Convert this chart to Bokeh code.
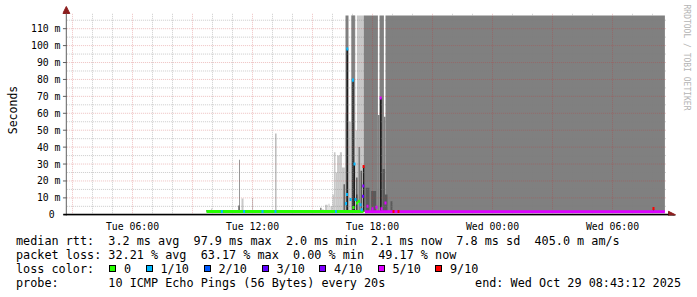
import math
from bokeh.plotting import figure
from bokeh.models import Range1d, FixedTicker, Arrow, NormalHead, Title, Div
from bokeh.layouts import column
from bokeh.embed import file_html
from bokeh.resources import INLINE

# ---------------- data (time = hours since Tue 28 Oct 2025 00:00, values in ms) ----------------
T_START = 2.72      # Tue 02:43:12
T_END = 32.72       # Wed 08:43:12
Y_LIMIT = 117.8     # graph upper limit in ms

x_ticks = [6, 12, 18, 24, 30]
x_labels = ["Tue 06:00", "Tue 12:00", "Tue 18:00", "Wed 00:00", "Wed 06:00"]
y_ticks = [0, 10, 20, 30, 40, 50, 60, 70, 80, 90, 100, 110]
y_labels = ["0\u00a0", "10 m", "20 m", "30 m", "40 m", "50 m", "60 m", "70 m", "80 m", "90 m", "100 m", "110 m"]

# smoke: outer (light) layer
light_start = [9.93, 11.45, 11.98, 15.50, 15.63, 15.80, 15.90, 16.00, 16.07, 16.15, 16.23, 16.37, 16.47, 16.62, 16.80, 16.92, 17.15, 17.22]
light_end   = [9.98, 11.55, 12.03, 15.55, 15.75, 15.85, 16.00, 16.07, 16.15, 16.23, 16.37, 16.47, 16.62, 16.65, 16.92, 17.15, 17.22, 17.58]
light_top   = [3.7, 9.6, 10.0, 3.5, 6.0, 6.5, 5.0, 12.0, 37.0, 25.0, 35.0, 37.0, 28.0, 60.0, 55.0, 150.0, 50.0, 150.0]

# smoke: middle layer
mid_start = [11.33, 13.15, 16.65, 16.95, 17.30, 17.57, 18.27, 18.35, 18.57, 18.65]
mid_end   = [11.37, 13.19, 16.80, 17.12, 17.38, 18.27, 18.35, 18.57, 18.65, 32.62]
mid_top   = [32.5, 48.0, 150.0, 150.0, 40.0, 150.0, 59.0, 150.0, 58.0, 150.0]

# smoke: dark layer
dark_start = [16.55, 17.18, 17.40, 17.66, 17.93, 18.50, 18.62, 18.90]
dark_end   = [16.62, 17.25, 17.48, 17.85, 18.18, 18.62, 18.75, 19.00]
dark_top   = [18.0, 22.0, 26.0, 16.0, 14.0, 27.0, 12.0, 8.0]

# smoke: innermost (near median) layer
core_start = [9.70, 11.30, 15.40, 16.70, 16.99, 17.07, 17.20, 17.52, 18.37, 32.02]
core_end   = [9.74, 11.34, 15.44, 16.78, 17.06, 17.13, 17.24, 17.59, 18.46, 32.08]
core_top   = [2.9, 5.5, 4.2, 98.0, 79.6, 30.0, 12.0, 28.6, 69.0, 3.5]

# median rtt runs
run_start = [9.70, 17.62]
run_end   = [17.55, 32.62]
run_ms    = [2.0, 1.8]
run_loss  = [0, 5]

# median rtt single samples
pt_t    = [10.47, 11.58, 12.50, 13.15, 16.17, 16.68, 16.72, 16.74, 16.90, 17.02, 17.05, 17.10, 17.15, 17.23,
           17.32, 17.40, 17.46, 17.53, 17.54, 17.555, 17.75, 18.00, 18.20, 18.41, 18.45, 18.65, 19.05, 19.30, 32.05]
pt_ms   = [2.0, 2.0, 2.0, 2.0, 2.0, 6.6, 12.0, 98.0, 9.0, 79.6, 4.3, 30.0, 9.0, 7.0,
           8.0, 6.0, 3.0, 11.0, 17.0, 28.6, 5.0, 3.5, 4.5, 69.0, 3.5, 7.0, 2.0, 2.0, 3.7]
pt_loss = [1, 1, 1, 1, 1, 1, 1, 1, 1, 1, 0, 1, 1, 0,
           0, 1, 1, 3, 4, 9, 5, 5, 5, 5, 5, 5, 9, 9, 9]

loss_names = ["0", "1/10", "2/10", "3/10", "4/10", "5/10", "9/10"]
loss_keys = [0, 1, 2, 3, 4, 5, 9]
loss_colors = ["#26ff00", "#00b8ff", "#0059ff", "#5e00ff", "#7e00ff", "#dd00ff", "#ff0000"]

legend_lines = [
    "median rtt:  3.2 ms avg  97.9 ms max  2.0 ms min  2.1 ms now  7.8 ms sd  405.0 m am/s",
    "packet loss: 32.21 % avg  63.17 % max  0.00 % min  49.17 % now",
    "loss color:",
    "probe:       10 ICMP Echo Pings (56 Bytes) every 20s",
]
end_text = "end: Wed Oct 29 08:43:12 2025"

# ---------------- graph ----------------
FONT = "DejaVu Sans Mono"
X_PX = 20.0          # px per hour
Y_PX = 1.7           # px per ms
W, H, H1 = 697, 297, 234
FR_L, FR_R, FR_T, FR_B = 62, 676, 4, 216
X0_PX, X0_H = 132.0, 6.0
Y0_PX = 215.3

xr = Range1d(X0_H + (FR_L - X0_PX) / X_PX, X0_H + (FR_R - X0_PX) / X_PX)
yr = Range1d((Y0_PX - FR_B) / Y_PX, (Y0_PX - FR_T) / Y_PX)

p = figure(width=W, height=H1, x_range=xr, y_range=yr, output_backend="svg", toolbar_location=None,
           min_border_left=FR_L, min_border_right=W - FR_R, min_border_top=FR_T, min_border_bottom=H1 - FR_B)
p.outline_line_color = None
p.xgrid.visible = False
p.ygrid.visible = False
p.background_fill_color = "white"
p.border_fill_color = "white"

def clip(v):
    return [min(t, Y_LIMIT) for t in v]

SMOKE_BOTTOM = 1.8
def smoke(s, e, t, color):
    p.quad(left=s, right=e, bottom=[SMOKE_BOTTOM] * len(s), top=clip(t), fill_color=color, line_color=None)

smoke(light_start, light_end, light_top, "#c8c8c8")
smoke(mid_start, mid_end, mid_top, "#808080")
smoke(dark_start, dark_end, dark_top, "#5a5a5a")
smoke(core_start, core_end, core_top, "#1e1e1e")

# grid (drawn over smoke, semi-transparent like rrdtool)
minor_x = [h for h in range(3, 33) if h % 3 != 0]
major_x = [h for h in range(3, 33) if h % 3 == 0]
minor_y = [v + 5 for v in range(0, 115, 10)]
major_y = [v for v in range(10, 115, 10)]
GTOP = 119.0
p.segment(x0=minor_x, y0=[0] * len(minor_x), x1=minor_x, y1=[GTOP] * len(minor_x),
          line_color="#808080", line_alpha=0.4, line_dash="1 1", line_width=1)
p.segment(x0=[T_START] * len(minor_y), y0=minor_y, x1=[T_END] * len(minor_y), y1=minor_y,
          line_color="#808080", line_alpha=0.4, line_dash="1 1", line_width=1)
p.segment(x0=major_x, y0=[0] * len(major_x), x1=major_x, y1=[GTOP] * len(major_x),
          line_color="#c83232", line_alpha=0.3, line_dash="1 1", line_width=1)
p.segment(x0=[T_START] * len(major_y), y0=major_y, x1=[T_END] * len(major_y), y1=major_y,
          line_color="#c83232", line_alpha=0.3, line_dash="1 1", line_width=1)

# median rtt
cmap = dict(zip(loss_keys, loss_colors))
HALF = 0.9
p.quad(left=run_start, right=run_end, bottom=[m - HALF for m in run_ms], top=[m + HALF for m in run_ms],
       fill_color=[cmap[k] for k in run_loss], line_color=None)
DT = 0.05
p.quad(left=[t - DT for t in pt_t], right=[t + DT for t in pt_t],
       bottom=[m - HALF for m in pt_ms], top=[m + HALF for m in pt_ms],
       fill_color=[cmap[k] for k in pt_loss], line_color=None)

# axes lines and arrows
AX_COL = "#8c1e1e"
p.add_layout(Arrow(end=NormalHead(size=7, fill_color=AX_COL, line_color=AX_COL),
                   x_start=T_START - 0.03, y_start=-1.0, x_end=T_START - 0.03, y_end=(Y0_PX - 6) / Y_PX,
                   line_color="#606060", line_width=1))
p.add_layout(Arrow(end=NormalHead(size=7, fill_color=AX_COL, line_color=AX_COL),
                   x_start=T_START - 0.18, y_start=0, x_end=X0_H + (675 - X0_PX) / X_PX, y_end=0,
                   line_color="#000000", line_width=2))
p.segment(x0=[T_START - 0.2] * len(y_ticks), y0=y_ticks, x1=[T_START] * len(y_ticks), y1=y_ticks,
          line_color="#606060", line_width=1)

for ax, ticks, labels in ((p.xaxis[0], x_ticks, x_labels), (p.yaxis[0], y_ticks, y_labels)):
    ax.ticker = FixedTicker(ticks=ticks)
    ax.major_label_overrides = {t: l for t, l in zip(ticks, labels)}
    ax.axis_line_color = None
    ax.major_tick_line_color = None
    ax.minor_tick_line_color = None
    ax.major_tick_out = 0
    ax.major_tick_in = 0
    ax.minor_tick_out = 0
    ax.minor_tick_in = 0
    ax.major_label_text_font = FONT
    ax.major_label_text_font_size = "9.8px"
    ax.major_label_text_color = "#000000"
p.xaxis.major_label_standoff = 5
p.yaxis.major_label_standoff = 2
p.yaxis.axis_label = "Seconds"
p.yaxis.axis_label_text_font = FONT
p.yaxis.axis_label_text_font_size = "11.5px"
p.yaxis.axis_label_text_font_style = "normal"
p.yaxis.axis_label_text_color = "#000000"
p.yaxis.axis_label_standoff = 8

p.add_layout(Title(text="RRDTOOL / TOBI OETIKER", text_font=FONT, text_font_size="8px",
                   text_font_style="normal", text_color="#b4b4b4", align="left", standoff=10), "right")

# ---------------- legend (below the graph) ----------------
LINE_Y = [241, 255, 269, 283]
LH = 14
parts = []
for yy, line in zip(LINE_Y, legend_lines):
    parts.append('<span style="position:absolute;left:16px;top:%dpx;">%s</span>' % (yy - H1 - LH // 2, line))
parts.append('<span style="position:absolute;right:%dpx;top:%dpx;">%s</span>' % (W - 681, LINE_Y[3] - H1 - LH // 2, end_text))
sq_x = [109, 145.5, 203.5, 261.5, 319, 377.5, 435]
for sx, col, name in zip(sq_x, loss_colors, loss_names):
    parts.append('<span style="position:absolute;left:%.1fpx;top:%dpx;width:7px;height:7px;'
                 'background:%s;border:1px solid #000;"></span>' % (sx, LINE_Y[2] - H1 - 4, col))
    parts.append('<span style="position:absolute;left:%.1fpx;top:%dpx;">%s</span>' % (sx + 15, LINE_Y[2] - H1 - LH // 2, name))
html = ('<div style="position:relative;width:%dpx;height:%dpx;font-family:\'DejaVu Sans Mono\';'
        'font-size:11.8px;line-height:%dpx;color:#000;white-space:pre;">%s</div>') % (W, H - H1, LH, "".join(parts))
legend = Div(text=html, width=W, height=H - H1, margin=(0, 0, 0, 0))

layout = column(p, legend, spacing=0)
open("out.html", "w").write(file_html(layout, INLINE))
